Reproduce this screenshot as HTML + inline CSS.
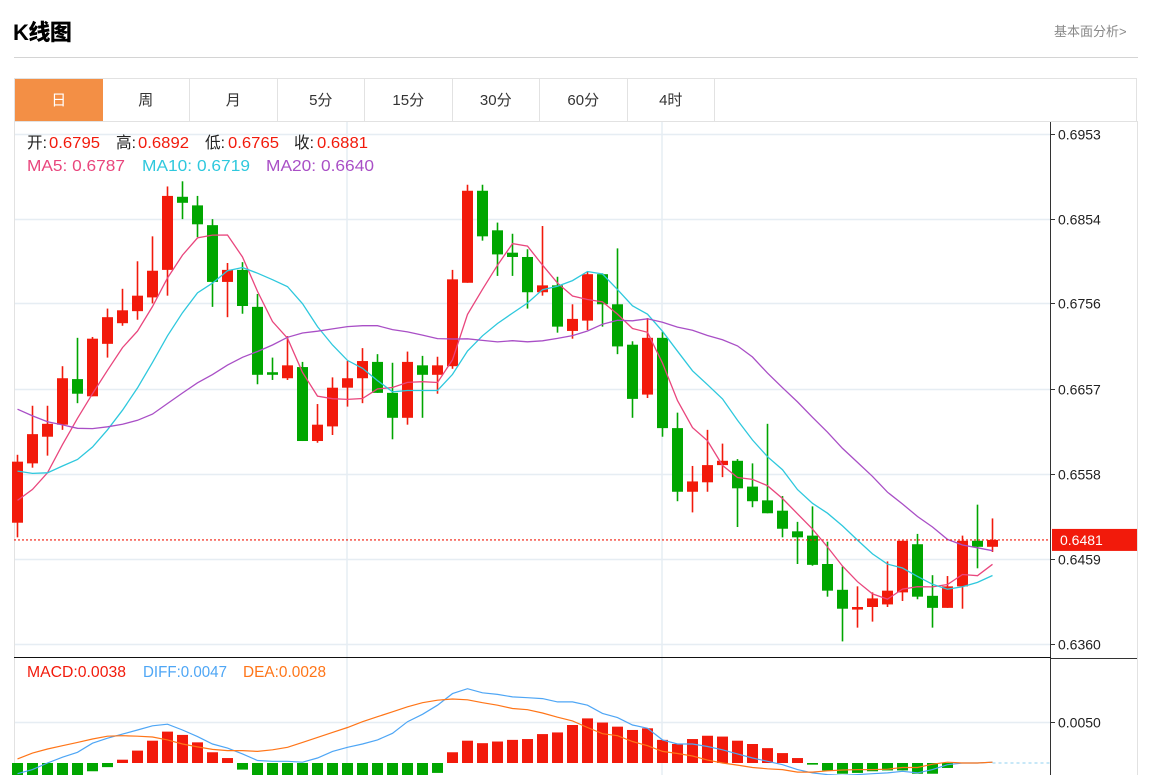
<!DOCTYPE html>
<html><head><meta charset="utf-8">
<style>
body{margin:0;width:1171px;height:775px;overflow:hidden;background:#fff;font-family:"Liberation Sans","Noto Sans CJK SC",sans-serif;}
#wrap{position:relative;width:1171px;height:775px;}
.title{position:absolute;left:13px;top:15px;font-size:22px;font-weight:900;color:#000;letter-spacing:-0.5px;}
.more{position:absolute;left:1054px;top:21px;font-size:13px;color:#888;}
.hr{position:absolute;left:14px;top:57px;width:1124px;height:1px;background:#d4d4d4;}
.tabs{position:absolute;left:14px;top:78px;width:1123px;height:43px;border:1px solid #e2e2e2;border-bottom:none;box-sizing:border-box;display:flex;}
.tab{width:87.5px;height:43px;border-right:1px solid #e2e2e2;box-sizing:border-box;text-align:center;line-height:43px;font-size:15px;color:#333;}
.tab.on{background:#f38f45;color:#fff;border-right:none;}
svg{position:absolute;left:0;top:0;}
</style></head><body>
<div id="wrap">
<div class="title">K线图</div>
<div class="more">基本面分析&gt;</div>
<div class="hr"></div>
<div class="tabs">
<div class="tab on">日</div>
<div class="tab">周</div>
<div class="tab">月</div>
<div class="tab">5分</div>
<div class="tab">15分</div>
<div class="tab">30分</div>
<div class="tab">60分</div>
<div class="tab">4时</div>
</div>
<svg id="chart" width="1171" height="775"></svg>
</div>
<script>
const priorCloses=[0.6760,0.6750,0.6745,0.6730,0.6720,0.6700,0.6690,0.6670,0.6650,0.6635,0.6630,0.6610,0.6590,0.6575,0.6570,0.6540,0.6520,0.6505,0.6498];
const opens=[0.6501,0.6570,0.6601,0.6615,0.6668,0.6648,0.6709,0.6733,0.6747,0.6763,0.6795,0.6880,0.6870,0.6847,0.6781,0.6795,0.6752,0.6676,0.6669,0.6682,0.6596,0.6613,0.6658,0.6669,0.6688,0.6652,0.6623,0.6684,0.6673,0.6683,0.6780,0.6887,0.6841,0.6815,0.6810,0.6769,0.6777,0.6724,0.6736,0.6790,0.6755,0.6708,0.6650,0.6716,0.6611,0.6537,0.6548,0.6568,0.6573,0.6543,0.6527,0.6515,0.6491,0.6486,0.6453,0.6423,0.6400,0.6403,0.6406,0.6420,0.6476,0.6416,0.6402,0.6427,0.6480,0.6473];
const closes=[0.6572,0.6604,0.6616,0.6669,0.6651,0.6715,0.6740,0.6748,0.6765,0.6794,0.6881,0.6873,0.6848,0.6781,0.6795,0.6753,0.6673,0.6673,0.6684,0.6596,0.6615,0.6658,0.6669,0.6689,0.6652,0.6623,0.6688,0.6673,0.6684,0.6784,0.6887,0.6834,0.6813,0.6810,0.6769,0.6777,0.6729,0.6738,0.6790,0.6755,0.6706,0.6645,0.6716,0.6611,0.6537,0.6549,0.6568,0.6573,0.6541,0.6526,0.6512,0.6494,0.6484,0.6452,0.6422,0.6401,0.6403,0.6413,0.6422,0.6480,0.6415,0.6402,0.6427,0.6480,0.6473,0.6481];
const highs=[0.6580,0.6637,0.6637,0.6683,0.6716,0.6717,0.6750,0.6773,0.6805,0.6834,0.6892,0.6898,0.6881,0.6854,0.6803,0.6804,0.6767,0.6693,0.6718,0.6688,0.6639,0.6670,0.6689,0.6704,0.6697,0.6687,0.6700,0.6695,0.6694,0.6795,0.6894,0.6894,0.6850,0.6837,0.6819,0.6846,0.6787,0.6755,0.6793,0.6791,0.6820,0.6712,0.6739,0.6723,0.6629,0.6567,0.6609,0.6593,0.6575,0.6570,0.6616,0.6532,0.6502,0.6520,0.6479,0.6450,0.6427,0.6420,0.6456,0.6480,0.6488,0.6440,0.6439,0.6486,0.6522,0.6506];
const lows=[0.6484,0.6565,0.6579,0.6609,0.6640,0.6648,0.6693,0.6730,0.6737,0.6756,0.6765,0.6854,0.6833,0.6752,0.6740,0.6744,0.6662,0.6667,0.6667,0.6596,0.6594,0.6603,0.6636,0.6640,0.6652,0.6598,0.6615,0.6623,0.6651,0.6680,0.6780,0.6829,0.6788,0.6788,0.6750,0.6765,0.6722,0.6715,0.6725,0.6729,0.6697,0.6623,0.6646,0.6601,0.6526,0.6513,0.6537,0.6554,0.6496,0.6519,0.6512,0.6484,0.6453,0.6451,0.6415,0.6363,0.6379,0.6386,0.6403,0.6410,0.6412,0.6379,0.6402,0.6401,0.6448,0.6467];
const diffValues=[-0.0013,-0.0008,0.0000,0.0007,0.0013,0.0024,0.0030,0.0035,0.0040,0.0045,0.0047,0.0040,0.0032,0.0023,0.0018,0.0011,0.0003,0.0002,0.0002,0.0001,0.0006,0.0014,0.0019,0.0023,0.0028,0.0036,0.0050,0.0059,0.0070,0.0084,0.0090,0.0085,0.0083,0.0080,0.0079,0.0078,0.0074,0.0074,0.0070,0.0060,0.0055,0.0046,0.0042,0.0028,0.0023,0.0023,0.0020,0.0016,0.0011,0.0006,0.0002,-0.0002,-0.0008,-0.0012,-0.0014,-0.0015,-0.0014,-0.0013,-0.0012,-0.0010,-0.0012,-0.0008,-0.0002,0.0000,0.0000,0.0001];
const macdValues=[-0.0036,-0.0040,-0.0034,-0.0028,-0.0024,-0.0010,-0.0005,0.0004,0.0015,0.0027,0.0038,0.0034,0.0025,0.0013,0.0006,-0.0008,-0.0022,-0.0028,-0.0034,-0.0048,-0.0050,-0.0046,-0.0048,-0.0054,-0.0056,-0.0052,-0.0036,-0.0028,-0.0012,0.0013,0.0027,0.0024,0.0026,0.0028,0.0029,0.0035,0.0037,0.0046,0.0054,0.0049,0.0044,0.0040,0.0042,0.0028,0.0023,0.0029,0.0033,0.0032,0.0027,0.0023,0.0018,0.0012,0.0006,-0.0002,-0.0009,-0.0013,-0.0012,-0.0010,-0.0009,-0.0009,-0.0013,-0.0013,-0.0006,0.0000,0.0000,0.0000];
const priceTicks=[0.6953,0.6854,0.6756,0.6657,0.6558,0.6459,0.6360];
const macdTicks=[0.0050];
const lastPrice=0.6481;

const NS='http://www.w3.org/2000/svg';
const svg=document.getElementById('chart');
function mk(tag,attrs,parent){const e=document.createElementNS(NS,tag);for(const k in attrs)e.setAttribute(k,attrs[k]);(parent||svg).appendChild(e);return e;}
const xAt=i=>17.5+15*i;
const yP=p=>134+(0.6953-p)*8600;
const yM=v=>763-v*8260;
const RED='#f21a0b',GREEN='#00a600';

let e;
e=mk('rect',{x:14.5,y:121.5,width:1123,height:660,fill:'none',stroke:'#e2e2e2'});


priceTicks.forEach(t=>{
  const y=Math.round(yP(t))+0.5;
  e=mk('line',{x1:15,x2:1051,y1:y,y2:y,stroke:'#e6edf3','stroke-width':1.5});
  
  
  mk('line',{x1:1051,x2:1055,y1:y,y2:y,stroke:'#333'});
  e=mk('text',{x:1058,y:y+5,'font-size':14,fill:'#222'});
  e.textContent=t.toFixed(4);
  
  
});
[347,662].forEach(x=>{
  e=mk('line',{x1:x,x2:x,y1:122,y2:775,stroke:'#e6edf3','stroke-width':1.5});
  
  
});
macdTicks.forEach(t=>{
  const y=Math.round(yM(t))+0.5;
  e=mk('line',{x1:15,x2:1051,y1:y,y2:y,stroke:'#e6edf3','stroke-width':1.5});
  
  
  mk('line',{x1:1051,x2:1055,y1:y,y2:y,stroke:'#333'});
  e=mk('text',{x:1058,y:y+5,'font-size':14,fill:'#222'});
  e.textContent=t.toFixed(4);
  
  
});
e=mk('line',{x1:1050.5,x2:1050.5,y1:122,y2:775,stroke:'#333'});


e=mk('line',{x1:14,x2:1051,y1:657.5,y2:657.5,stroke:'#111'});


mk('line',{x1:1051,x2:1137,y1:658.5,y2:658.5,stroke:'#333'});

for(let i=0;i<closes.length;i++){
  const up=closes[i]>=opens[i];const c=up?RED:GREEN;const x=xAt(i);
  const g=mk('g',{});
  
  
  mk('line',{x1:x,x2:x,y1:yP(highs[i]),y2:yP(lows[i]),stroke:c,'stroke-width':1.6},g);
  const t=yP(Math.max(opens[i],closes[i])),b=yP(Math.min(opens[i],closes[i]));
  mk('rect',{x:x-5.5,y:t,width:11,height:Math.max(1.5,b-t),fill:c},g);
}
const all=priorCloses.concat(closes);
function ma(n){return closes.map((_,i)=>{const j=i+priorCloses.length;let s=0;for(let k=j-n+1;k<=j;k++)s+=all[k];return s/n;});}
[[5,'#e9467d','ma5-line'],[10,'#2ec8dd','ma10-line'],[20,'#a94fc6','ma20-line']].forEach(([n,col,name])=>{
  const v=ma(n);
  e=mk('polyline',{points:v.map((p,i)=>xAt(i)+','+yP(p).toFixed(1)).join(' '),fill:'none',stroke:col,'stroke-width':1.3});
  
  
});
e=mk('line',{x1:14,x2:1050,y1:yP(lastPrice),y2:yP(lastPrice),stroke:'#f21a0b','stroke-dasharray':'2,2','stroke-width':1.2});


e=mk('rect',{x:1052,y:yP(lastPrice)-11,width:85,height:22,fill:'#f21a0b'});


e=mk('text',{x:1060,y:yP(lastPrice)+5,'font-size':14,fill:'#fff'});
e.textContent=lastPrice.toFixed(4);



for(let i=0;i<macdValues.length;i++){
  const v=macdValues[i];if(v===0)continue;
  const y0=yM(0),y1=yM(v);
  e=mk('rect',{x:xAt(i)-5.5,y:Math.min(y0,y1),width:11,height:Math.abs(y1-y0),fill:v>0?RED:GREEN});
  
  
}
const deaValues=diffValues.map((d,i)=>d-macdValues[i]/2);
e=mk('line',{x1:xAt(macdValues.length-1),x2:1050,y1:yM(0),y2:yM(0),stroke:'#8fd0f0','stroke-dasharray':'3,3'});


e=mk('polyline',{points:diffValues.map((v,i)=>xAt(i)+','+yM(v).toFixed(1)).join(' '),fill:'none',stroke:'#4ea6f5','stroke-width':1.2});


e=mk('polyline',{points:deaValues.map((v,i)=>xAt(i)+','+yM(v).toFixed(1)).join(' '),fill:'none',stroke:'#ff7518','stroke-width':1.2});



function lbl(x,y,s,c,w,name){
  const t=mk('text',{x:x,y:y,'font-size':16,fill:c,textLength:w,lengthAdjust:'spacingAndGlyphs'});
  t.textContent=s;
  
  
}
lbl(27,148,'开:','#222',20,'open-label');lbl(49,148,'0.6795','#f21a0b',51,'open-value');
lbl(116,148,'高:','#222',20,'high-label');lbl(138,148,'0.6892','#f21a0b',51,'high-value');
lbl(205,148,'低:','#222',20,'low-label');lbl(228,148,'0.6765','#f21a0b',51,'low-value');
lbl(294,148,'收:','#222',20,'close-label');lbl(317,148,'0.6881','#f21a0b',51,'close-value');
lbl(27,171,'MA5: 0.6787','#e9467d',98,'ma5-legend');
lbl(142,171,'MA10: 0.6719','#2ec8dd',108,'ma10-legend');
lbl(266,171,'MA20: 0.6640','#a94fc6',108,'ma20-legend');
lbl(27,677,'MACD:0.0038','#f21a0b',99,'macd-legend');
lbl(143,677,'DIFF:0.0047','#4ea6f5',84,'diff-legend');
lbl(243,677,'DEA:0.0028','#ff7518',83,'dea-legend');
</script>
</body></html>
